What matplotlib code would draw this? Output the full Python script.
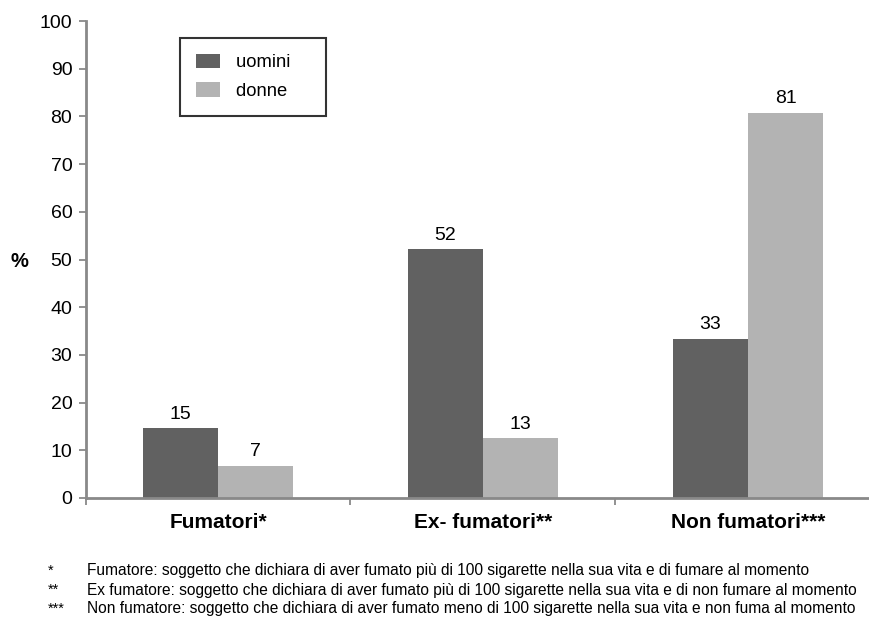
import matplotlib
matplotlib.use("Agg")
import matplotlib.pyplot as plt
from matplotlib.patches import Patch
import numpy as np

categories = ["Fumatori*", "Ex- fumatori**", "Non fumatori***"]
uomini = [14.6, 52.1, 33.4]
donne = [6.7, 12.5, 80.8]
uomini_labels = ["15", "52", "33"]
donne_labels = ["7", "13", "81"]
yticks = [0, 10, 20, 30, 40, 50, 60, 70, 80, 90, 100]
footnote_marks = ["*", "**", "***"]
footnotes = [
    "Fumatore: soggetto che dichiara di aver fumato più di 100 sigarette nella sua vita e di fumare al momento",
    "Ex fumatore: soggetto che dichiara di aver fumato più di 100 sigarette nella sua vita e di non fumare al momento",
    "Non fumatore: soggetto che dichiara di aver fumato meno di 100 sigarette nella sua vita e non fuma al momento",
]

plt.rcParams['font.family'] = ['Liberation Sans', 'DejaVu Sans']

W, H = 869, 617
fig = plt.figure(figsize=(W / 100, H / 100), dpi=100)
ax_left = 85.5 / W
ax_right = 880.5 / W
ax_bottom = 1 - 498 / H
ax_top = 1 - 21 / H
ax = fig.add_axes([ax_left, ax_bottom, ax_right - ax_left, ax_top - ax_bottom])

c_u = "#616161"
c_d = "#b3b3b3"
gray = "#898989"
x = np.arange(len(categories))
bw = 0.284
b1 = ax.bar(x - bw / 2, uomini, bw, color=c_u, label="uomini")
b2 = ax.bar(x + bw / 2, donne, bw, color=c_d, label="donne")
for bars, labels in ((b1, uomini_labels), (b2, donne_labels)):
    for rect, lab in zip(bars, labels):
        ax.annotate(lab, (rect.get_x() + rect.get_width() / 2, rect.get_height()),
                    xytext=(0, 7), textcoords="offset points",
                    ha="center", va="baseline", fontsize=14)

ax.set_xlim(-0.5, 2.5)
ax.set_ylim(0, 100)
ax.set_yticks(yticks)
ax.set_yticklabels([str(v) for v in yticks], fontsize=14)
ax.set_xticks([-0.5, 0.5, 1.5, 2.5])
ax.set_xticklabels([])
ax.set_xticks(x, minor=True)
ax.set_xticklabels(categories, minor=True, fontsize=15, fontweight="bold")
ax.tick_params(axis="x", which="minor", length=0, pad=11)
ax.tick_params(axis="x", which="major", length=5, width=1.3, color=gray, direction="out")
ax.tick_params(axis="y", length=5, width=1.3, color=gray, direction="out", pad=4.5)

for s in ["top", "right"]:
    ax.spines[s].set_visible(False)
for s in ["left", "bottom"]:
    ax.spines[s].set_color(gray)
    ax.spines[s].set_linewidth(2)

fig.text(19 / W, 1 - 262 / H, "%", fontsize=14.5, fontweight="bold", ha="center", va="center")

handles = [Patch(facecolor=c_u, label="uomini"), Patch(facecolor=c_d, label="donne")]
leg = fig.legend(handles=handles, loc="upper left", bbox_to_anchor=(180 / W, 1 - 38 / H),
                 fontsize=13.2, frameon=True, fancybox=False, edgecolor="black",
                 handlelength=1.31, handleheight=0.82, labelspacing=0.62,
                 borderpad=0.85, borderaxespad=0, handletextpad=0.87)
leg.get_frame().set_linewidth(1.5)
for t in leg.get_texts():
    t.set_text(t.get_text() + "    ")

fam = ['Liberation Sans Narrow', 'Liberation Sans', 'DejaVu Sans']
ys = [571, 590, 609]
notes = []
for mark, note, yy in zip(footnote_marks, footnotes, ys):
    fig.text(48 / W, 1 - yy / H, mark, fontsize=10.5, ha="left", va="center", family=fam)
    notes.append(fig.text(87 / W, 1 - yy / H, note, fontsize=10.5, ha="left", va="center", family=fam))

# fit footnotes: first line ~746 px wide as in the reference, but keep all lines inside the figure
fig.canvas.draw()
r = fig.canvas.get_renderer()
w1 = notes[0].get_window_extent(r).width
wmax = max(t.get_window_extent(r).width for t in notes)
size = min(10.5 * 746 / w1, 10.5 * (W - 4 - 87) / wmax, 12.5)
for t in notes:
    t.set_fontsize(size)

fig.savefig("out.png", dpi=100)
